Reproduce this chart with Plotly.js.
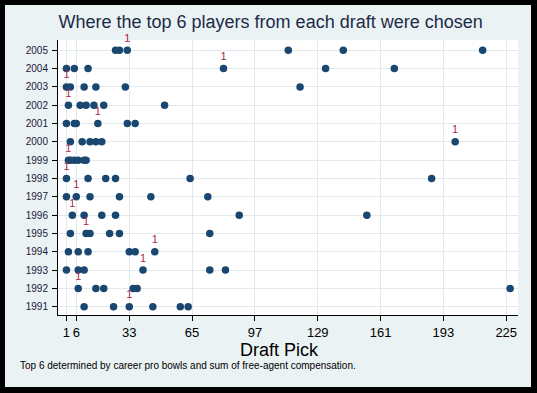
<!DOCTYPE html>
<html>
<head>
<meta charset="utf-8">
<script src="https://cdn.plot.ly/plotly-3.0.1.min.js"></script>
<style>
  html, body { margin: 0; padding: 0; background: #000000; width: 537px; height: 393px; overflow: hidden; }
  #chart { position: absolute; left: 5px; top: 5px; width: 526px; height: 382px; }
</style>
</head>
<body>
<div id="chart"></div>
<script>
// Draft years (y axis)
const years = [1991, 1992, 1993, 1994, 1995, 1996, 1997, 1998, 1999, 2000, 2001, 2002, 2003, 2004, 2005];

// Draft picks of the top 6 players, one list per year (same order as years)
const picks1991 = [10, 25, 33, 45, 59, 63];
const picks1992 = [7, 16, 20, 35, 37, 227];
const picks1993 = [1, 7, 10, 40, 74, 82];
const picks1994 = [2, 7, 12, 33, 36, 46];
const picks1995 = [3, 11, 13, 23, 28, 74];
const picks1996 = [4, 10, 19, 26, 89, 154];
const picks1997 = [1, 6, 13, 28, 44, 73];
const picks1998 = [1, 12, 21, 26, 64, 187];
const picks1999 = [2, 3, 5, 7, 10, 11];
const picks2000 = [3, 9, 13, 16, 19, 199];
const picks2001 = [1, 5, 6, 17, 32, 36];
const picks2002 = [2, 8, 11, 15, 20, 51];
const picks2003 = [1, 3, 10, 16, 31, 120];
const picks2004 = [1, 5, 12, 81, 133, 168];
const picks2005 = [26, 28, 32, 114, 142, 213];
const picksByYear = [picks1991, picks1992, picks1993, picks1994, picks1995, picks1996, picks1997,
  picks1998, picks1999, picks2000, picks2001, picks2002, picks2003, picks2004, picks2005];

// Pick at which the #1 ranked player of each year was chosen
const firstPick = [33, 7, 40, 46, 11, 4, 6, 1, 2, 199, 17, 2, 1, 81, 32];

// x axis ticks
const xTickVals = [1, 6, 33, 65, 97, 129, 161, 193, 225];
const xTickText = ['1', '6', '33', '65', '97', '129', '161', '193', '225'];

const xs = [], ys = [], labels = [];
years.forEach((yr, i) => {
  picksByYear[i].forEach(p => {
    xs.push(p);
    ys.push(yr);
    labels.push(p === firstPick[i] ? '1' : '');
  });
});

const trace = {
  type: 'scatter',
  mode: 'markers+text',
  x: xs,
  y: ys,
  text: labels,
  textposition: 'top center',
  textfont: { family: 'Liberation Sans, Arial, sans-serif', size: 11, color: '#a8284e' },
  cliponaxis: false,
  marker: { symbol: 'circle', size: 7.5, color: '#1a476f' },
  hoverinfo: 'x+y'
};

const layout = {
  width: 526,
  height: 382,
  paper_bgcolor: '#eaf2f3',
  plot_bgcolor: '#ffffff',
  margin: { l: 53, r: 13, t: 35, b: 72, pad: 0 },
  showlegend: false,
  font: { family: 'Liberation Sans, Arial, sans-serif', color: '#000000' },
  title: {
    text: 'Where the top 6 players from each draft were chosen',
    font: { family: 'Liberation Sans, Arial, sans-serif', size: 18, color: '#1c2a48' },
    x: 0.505, xref: 'container', xanchor: 'center',
    y: 0.955, yref: 'container', yanchor: 'middle'
  },
  xaxis: {
    range: [-3.3, 231],
    tickmode: 'array',
    tickvals: xTickVals,
    ticktext: xTickText,
    tickangle: 0,
    ticks: 'outside',
    ticklen: 5,
    tickcolor: '#000000',
    ticklabelstandoff: 0,
    tickfont: { family: 'Liberation Sans, Arial, sans-serif', size: 13, color: '#000000' },
    showline: true,
    linecolor: '#000000',
    linewidth: 1,
    showgrid: true,
    gridcolor: '#e0e9ec',
    gridwidth: 1,
    zeroline: false
  },
  yaxis: {
    range: [1990.55, 2005.56],
    tickmode: 'array',
    tickvals: years,
    ticktext: years.map(String),
    ticks: 'outside',
    ticklen: 5,
    tickcolor: '#000000',
    ticklabelstandoff: 2,
    tickfont: { family: 'Liberation Sans, Arial, sans-serif', size: 10, color: '#1a1a3a' },
    showline: true,
    linecolor: '#000000',
    linewidth: 1,
    showgrid: true,
    gridcolor: '#e0e9ec',
    gridwidth: 1,
    zeroline: false
  },
  annotations: [{
    // x axis title
    text: 'Draft Pick',
    xref: 'paper', yref: 'paper',
    x: 0.482, y: -0.127,
    xanchor: 'center', yanchor: 'middle',
    showarrow: false,
    font: { family: 'Liberation Sans, Arial, sans-serif', size: 18, color: '#000000' }
  }, {
    text: 'Top 6 determined by career pro bowls and sum of free-agent compensation.',
    xref: 'paper', yref: 'paper',
    x: -0.0863, y: -0.184,
    xanchor: 'left', yanchor: 'middle',
    showarrow: false,
    font: { family: 'Liberation Sans, Arial, sans-serif', size: 10, color: '#000000' }
  }]
};

Plotly.newPlot('chart', [trace], layout, { displayModeBar: false, staticPlot: true });
</script>
</body>
</html>
